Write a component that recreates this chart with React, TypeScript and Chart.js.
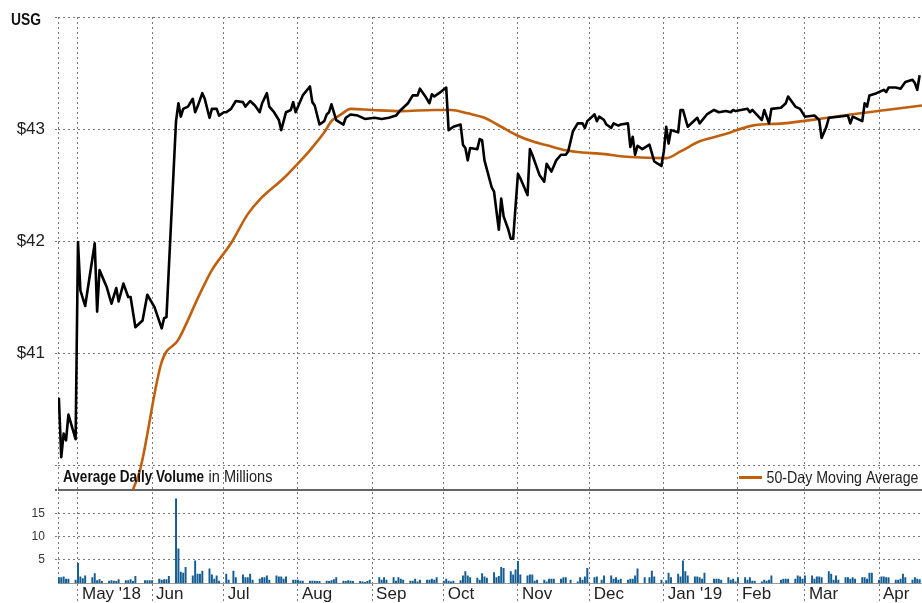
import { useEffect, useRef } from 'react';
import { Chart, registerables } from 'chart.js';

Chart.register(...registerables);

// ---------------- DATA ----------------
const TICKER = 'USG';
const MA_LABEL = '50-Day Moving Average';
const VOLUME_LABEL_BOLD = 'Average Daily Volume';
const VOLUME_LABEL_REST = 'in Millions';

// trading calendar (market holidays inside the range)
const FIRST_TRADING_DAY = '2018-04-23';
const LAST_TRADING_DAY = '2019-04-18';
const HOLIDAYS = [
  '2018-05-28', '2018-07-04', '2018-09-03', '2018-11-22', '2018-12-05',
  '2018-12-25', '2019-01-01', '2019-01-21', '2019-02-18',
];

// daily volume, millions, one value per trading day, by month
const volApr18 = [1.2, 1.2, 1.4, 0.9, 0.9, 0.7];
const volMay18 = [4.3, 1.4, 1.0, 1.6, 1.2, 2.1, 0.6, 0.8, 0.4, 0.5, 0.6, 0.5, 0.4, 0.8, 0.6, 0.6, 0.8, 0.4, 1.5, 0.6, 0.6, 0.6];
const volJun18 = [0.6, 0.9, 0.7, 0.8, 0.8, 1.5, 18.1, 7.4, 2.4, 2.2, 3.4, 1.6, 4.8, 2.0, 2.0, 2.6, 3.1, 1.8, 0.9, 1.6, 0.5];
const volJul18 = [2.0, 0.7, 2.6, 1.2, 1.8, 1.2, 1.2, 2.0, 0.7, 0.9, 1.2, 1.2, 1.6, 0.7, 1.6, 1.4, 1.4, 0.9, 1.4, 0.7, 0.7];
const volAug18 = [0.7, 0.5, 0.5, 0.5, 0.5, 0.5, 0.4, 0.4, 0.5, 0.4, 0.6, 0.8, 1.2, 0.5, 0.4, 0.6, 0.5, 0.4, 0.4, 0.3, 0.2, 0.4, 0.7];
const volSep18 = [1.2, 0.7, 1.2, 0.7, 1.2, 0.5, 1.2, 0.9, 0.7, 0.5, 0.5, 0.9, 0.3, 0.7, 0.7, 0.7, 0.9, 0.7, 1.2];
const volOct18 = [0.5, 0.9, 0.5, 0.3, 0.5, 0.6, 1.6, 2.5, 1.6, 1.2, 1.1, 0.7, 2.1, 1.4, 1.1, 2.3, 1.2, 1.5, 3.4, 3.2, 2.5, 1.8, 2.9];
const volNov18 = [4.7, 1.8, 1.6, 1.8, 1.8, 0.5, 0.7, 0.7, 0.3, 0.9, 0.9, 0.9, 0.9, 1.2, 1.2, 0.7, 0.3, 1.2, 0.7, 1.4, 3.2];
const volDec18 = [1.2, 1.4, 0.7, 1.6, 1.6, 0.9, 1.2, 0.7, 0.9, 0.7, 0.9, 0.9, 1.6, 3.1, 1.2, 1.2, 2.6, 1.4, 0.7];
const volJan19 = [0.6, 2.2, 1.2, 2.0, 1.4, 4.8, 2.5, 1.6, 1.4, 1.4, 1.2, 0.9, 2.2, 0.9, 0.9, 0.9, 0.7, 1.2, 0.7, 0.9, 0.3];
const volFeb19 = [1.2, 1.2, 0.7, 1.2, 0.5, 0.5, 0.3, 0.7, 0.5, 0.7, 1.6, 0.7, 0.9, 0.9, 0.9, 0.9, 1.6, 1.4, 0.9];
const volMar19 = [1.6, 1.6, 0.9, 1.4, 1.4, 1.2, 2.5, 2.0, 0.7, 1.6, 0.7, 1.2, 1.2, 0.9, 1.2, 0.9, 1.2, 1.2, 0.9, 2.2, 2.2];
const volApr19 = [0.7, 1.4, 1.4, 1.2, 1.2, 0.7, 0.7, 0.9, 2.0, 1.2, 0.7, 1.2, 0.9, 0.8];

// closing price (line vertices)
const priceDates = [
  '2018-04-23', '2018-04-24', '2018-04-25', '2018-04-26', '2018-04-27', '2018-04-30',
  '2018-05-01', '2018-05-02', '2018-05-04', '2018-05-08', '2018-05-09', '2018-05-10', '2018-05-13', '2018-05-15', '2018-05-17', '2018-05-18', '2018-05-20', '2018-05-22', '2018-05-23', '2018-05-25', '2018-05-28', '2018-05-30',
  '2018-06-02', '2018-06-05', '2018-06-06', '2018-06-07', '2018-06-11', '2018-06-12', '2018-06-13', '2018-06-14', '2018-06-16', '2018-06-18', '2018-06-19', '2018-06-20', '2018-06-22', '2018-06-23', '2018-06-25', '2018-06-26', '2018-06-28', '2018-06-29',
  '2018-07-01', '2018-07-02', '2018-07-04', '2018-07-06', '2018-07-09', '2018-07-10', '2018-07-12', '2018-07-14', '2018-07-16', '2018-07-17', '2018-07-19', '2018-07-20', '2018-07-22', '2018-07-24', '2018-07-25', '2018-07-27', '2018-07-29', '2018-07-30', '2018-07-31',
  '2018-08-03', '2018-08-06', '2018-08-07', '2018-08-08', '2018-08-10', '2018-08-12', '2018-08-13', '2018-08-14', '2018-08-15', '2018-08-17', '2018-08-20', '2018-08-21', '2018-08-23', '2018-08-26', '2018-08-29',
  '2018-09-02', '2018-09-05', '2018-09-08', '2018-09-11', '2018-09-13', '2018-09-16', '2018-09-18', '2018-09-20', '2018-09-21', '2018-09-23', '2018-09-25', '2018-09-26', '2018-09-27', '2018-09-29',
  '2018-10-02', '2018-10-03', '2018-10-05', '2018-10-08', '2018-10-09', '2018-10-10', '2018-10-11', '2018-10-12', '2018-10-15', '2018-10-16', '2018-10-17', '2018-10-18', '2018-10-21', '2018-10-22', '2018-10-24', '2018-10-25', '2018-10-26', '2018-10-28', '2018-10-29', '2018-10-30',
  '2018-11-01', '2018-11-02', '2018-11-05', '2018-11-06', '2018-11-07', '2018-11-10', '2018-11-12', '2018-11-13', '2018-11-15', '2018-11-16', '2018-11-17', '2018-11-19', '2018-11-21', '2018-11-22', '2018-11-23', '2018-11-24', '2018-11-26', '2018-11-28', '2018-11-29', '2018-11-30',
  '2018-12-03', '2018-12-04', '2018-12-05', '2018-12-07', '2018-12-08', '2018-12-10', '2018-12-11', '2018-12-13', '2018-12-14', '2018-12-17', '2018-12-18', '2018-12-19', '2018-12-20', '2018-12-21', '2018-12-23', '2018-12-26', '2018-12-28', '2018-12-31',
  '2019-01-01', '2019-01-02', '2019-01-03', '2019-01-04', '2019-01-07', '2019-01-08', '2019-01-09', '2019-01-11', '2019-01-15', '2019-01-16', '2019-01-19', '2019-01-22', '2019-01-24', '2019-01-27', '2019-01-29', '2019-01-30', '2019-01-31',
  '2019-02-05', '2019-02-06', '2019-02-07', '2019-02-11', '2019-02-12', '2019-02-14', '2019-02-15', '2019-02-19', '2019-02-21', '2019-02-22', '2019-02-25', '2019-02-27',
  '2019-03-01', '2019-03-05', '2019-03-07', '2019-03-08', '2019-03-10', '2019-03-11', '2019-03-15', '2019-03-19', '2019-03-20', '2019-03-21', '2019-03-23', '2019-03-25', '2019-03-26', '2019-03-27', '2019-03-28', '2019-03-31',
  '2019-04-03', '2019-04-04', '2019-04-05', '2019-04-08', '2019-04-10', '2019-04-12', '2019-04-15', '2019-04-16', '2019-04-17', '2019-04-18',
];
const priceValues = [
  40.60, 40.07, 40.28, 40.22, 40.45, 40.23,
  41.99, 41.56, 41.42, 41.98, 41.37, 41.74, 41.59, 41.44, 41.58, 41.46, 41.62, 41.50, 41.50, 41.23, 41.29, 41.52,
  41.41, 41.22, 41.31, 41.32, 43.07, 43.23, 43.11, 43.18, 43.20, 43.27, 43.15, 43.20, 43.32, 43.27, 43.10, 43.18, 43.18, 43.12,
  43.15, 43.15, 43.18, 43.25, 43.24, 43.20, 43.25, 43.21, 43.15, 43.23, 43.32, 43.20, 43.15, 43.08, 42.99, 43.15, 43.17, 43.24, 43.15,
  43.30, 43.38, 43.24, 43.21, 43.04, 43.07, 43.13, 43.15, 43.22, 43.08, 43.04, 43.10, 43.13, 43.12, 43.09,
  43.10, 43.09, 43.10, 43.12, 43.17, 43.23, 43.30, 43.30, 43.36, 43.30, 43.23, 43.31, 43.29, 43.32,
  43.37, 42.99, 43.02, 43.04, 42.86, 42.83, 42.72, 42.83, 42.82, 42.91, 42.90, 42.72, 42.48, 42.44, 42.10, 42.38, 42.22, 42.10, 42.02, 42.02,
  42.60, 42.56, 42.41, 42.82, 42.77, 42.59, 42.53, 42.69, 42.62, 42.67, 42.72, 42.77, 42.77, 42.80, 42.89, 42.98, 43.05, 43.05, 43.01, 43.07,
  43.13, 43.07, 43.11, 43.08, 43.04, 43.01, 43.05, 43.03, 43.04, 43.05, 42.84, 42.93, 42.77, 42.85, 42.82, 42.86, 42.71, 42.67,
  42.80, 43.02, 42.87, 42.99, 42.97, 43.17, 43.17, 43.02, 43.10, 43.05, 43.13, 43.17, 43.15, 43.16, 43.15, 43.17, 43.16,
  43.18, 43.15, 43.17, 43.08, 43.17, 43.05, 43.18, 43.19, 43.23, 43.29, 43.20, 43.18,
  43.11, 43.12, 43.08, 42.92, 43.02, 43.10, 43.11, 43.12, 43.05, 43.11, 43.09, 43.07, 43.23, 43.20, 43.30, 43.32,
  43.35, 43.33, 43.37, 43.37, 43.36, 43.42, 43.44, 43.41, 43.35, 43.48,
];

// 50-day moving average
const maDates = [
  '2018-05-24', '2018-05-27', '2018-06-05', '2018-06-12', '2018-06-21', '2018-06-26', '2018-07-04', '2018-07-11',
  '2018-07-16', '2018-07-26', '2018-07-31', '2018-08-06', '2018-08-12', '2018-08-15', '2018-08-19', '2018-08-23',
  '2018-09-01', '2018-09-13', '2018-09-27', '2018-10-04', '2018-10-11', '2018-10-18', '2018-10-25', '2018-11-01',
  '2018-11-07', '2018-11-14', '2018-11-21', '2018-11-28', '2018-12-05', '2018-12-18', '2019-01-01', '2019-01-02',
  '2019-01-08', '2019-01-16', '2019-01-26', '2019-02-07', '2019-02-20', '2019-03-07', '2019-03-20', '2019-04-04',
  '2019-04-19',
];
const maValues = [
  39.78, 39.96, 40.92, 41.12, 41.53, 41.74, 41.98, 42.24,
  42.37, 42.56, 42.67, 42.81, 42.97, 43.07, 43.13, 43.18,
  43.17, 43.16, 43.17, 43.17, 43.14, 43.10, 43.02, 42.94,
  42.89, 42.85, 42.81, 42.79, 42.78, 42.75, 42.74, 42.74,
  42.80, 42.89, 42.95, 43.03, 43.05, 43.09, 43.13, 43.17,
  43.21,
];

// axis ticks
const monthTickDates = [
  '2018-05-01', '2018-06-01', '2018-07-01', '2018-08-01', '2018-09-01', '2018-10-01',
  '2018-11-01', '2018-12-01', '2019-01-01', '2019-02-01', '2019-03-01', '2019-04-01',
];
const monthTickLabels = ["May '18", 'Jun', 'Jul', 'Aug', 'Sep', 'Oct', 'Nov', 'Dec', "Jan '19", 'Feb', 'Mar', 'Apr'];
const priceTicks = [40, 41, 42, 43, 44];
const priceLabelled = [41, 42, 43];
const volumeTicks = [5, 10, 15, 20];
const volumeLabelled = [5, 10, 15];

// ---------------- HELPERS ----------------
const EPOCH = Date.UTC(2018, 4, 1);
function dayOf(s: string): number {
  const [y, m, d] = s.split('-').map(Number);
  return (Date.UTC(y, m - 1, d) - EPOCH) / 86400000;
}
function fmt(t: number): string {
  const d = new Date(t);
  const mm = String(d.getUTCMonth() + 1).padStart(2, '0');
  const dd = String(d.getUTCDate()).padStart(2, '0');
  return `${d.getUTCFullYear()}-${mm}-${dd}`;
}
function tradingDays(): string[] {
  const out: string[] = [];
  const [y0, m0, d0] = FIRST_TRADING_DAY.split('-').map(Number);
  const [y1, m1, d1] = LAST_TRADING_DAY.split('-').map(Number);
  const end = Date.UTC(y1, m1 - 1, d1);
  for (let t = Date.UTC(y0, m0 - 1, d0); t <= end; t += 86400000) {
    const wd = new Date(t).getUTCDay();
    const s = fmt(t);
    if (wd === 0 || wd === 6 || HOLIDAYS.includes(s)) continue;
    out.push(s);
  }
  return out;
}
function noPad(s: any) {
  s.paddingTop = 0;
  s.paddingBottom = 0;
  s.paddingLeft = 0;
  s.paddingRight = 0;
}

const X_MIN = -8.36;
const X_MAX = 352.98;
const FONT = "'Liberation Sans', Arial, Helvetica, sans-serif";
const NARROW = "'Liberation Sans Narrow', 'Liberation Sans', Arial, sans-serif";
const GRID = '#7a7a7a';
const DASH = [2, 3];
const MA_COLOR = '#c0600f';
const VOL_COLOR = '#135d92';

const overlayPlugin = {
  id: 'overlayText',
  afterDraw(chart: any) {
    const ctx = chart.ctx as CanvasRenderingContext2D;
    ctx.save();
    ctx.textAlign = 'left';
    ctx.textBaseline = 'alphabetic';
    ctx.fillStyle = '#111';
    ctx.font = `bold 16px ${NARROW}`;
    ctx.fillText(TICKER, 11, 25, 30);
    ctx.font = `bold 17px ${NARROW}`;
    ctx.fillText(VOLUME_LABEL_BOLD, 63, 482, 141);
    ctx.fillStyle = '#222';
    ctx.font = `17px ${NARROW}`;
    ctx.fillText(VOLUME_LABEL_REST, 208.5, 482, 64);
    const ma = chart.data.datasets[1];
    ctx.strokeStyle = ma.borderColor;
    ctx.lineWidth = 3;
    ctx.beginPath();
    ctx.moveTo(739, 477.5);
    ctx.lineTo(762, 477.5);
    ctx.stroke();
    ctx.font = `16.5px ${NARROW}`;
    ctx.fillText(ma.label, 766.5, 483, 152);
    ctx.restore();
  },
};

export default function App() {
  const ref = useRef<HTMLCanvasElement | null>(null);

  useEffect(() => {
    if (!ref.current) return;
    const days = tradingDays();
    const volumes = [
      ...volApr18, ...volMay18, ...volJun18, ...volJul18, ...volAug18, ...volSep18, ...volOct18,
      ...volNov18, ...volDec18, ...volJan19, ...volFeb19, ...volMar19, ...volApr19,
    ];
    const volData = days.map((d, i) => ({ x: dayOf(d), y: volumes[i] ?? 0 }));
    const priceData = priceDates.map((d, i) => ({ x: dayOf(d), y: priceValues[i] }));
    const maData = maDates.map((d, i) => ({ x: dayOf(d), y: maValues[i] }));
    const xTicks = [X_MIN, ...monthTickDates.map(dayOf)];

    const chart = new Chart(ref.current, {
      type: 'line',
      data: {
        datasets: [
          {
            type: 'line', label: TICKER, data: priceData, yAxisID: 'y', xAxisID: 'x',
            borderColor: '#000', borderWidth: 2.6, pointRadius: 0, tension: 0, order: 0,
            borderJoinStyle: 'round',
          },
          {
            type: 'line', label: MA_LABEL, data: maData, yAxisID: 'y', xAxisID: 'x',
            borderColor: MA_COLOR, borderWidth: 2.6, pointRadius: 0,
            cubicInterpolationMode: 'monotone', order: 1,
          },
          {
            type: 'bar', label: 'Volume', data: volData, yAxisID: 'y2', xAxisID: 'x',
            backgroundColor: VOL_COLOR, barThickness: 1.3, order: 2,
          } as any,
        ],
      },
      options: {
        responsive: false,
        animation: false,
        devicePixelRatio: 1,
        layout: { padding: { top: 17, left: 0, right: 0, bottom: 0 } },
        plugins: { legend: { display: false }, tooltip: { enabled: false }, title: { display: false } },
        scales: {
          x: {
            type: 'linear', min: X_MIN, max: X_MAX, offset: false,
            afterBuildTicks: (s: any) => { s.ticks = xTicks.map((v) => ({ value: v })); },
            afterFit: (s: any) => { s.height = 19.7; noPad(s); },
            ticks: {
              autoSkip: false, maxRotation: 0, minRotation: 0, align: 'start', labelOffset: 4,
              padding: -19, color: '#222', font: { family: FONT, size: 17 },
              callback: (_v: any, i: number) => (i === 0 ? '' : monthTickLabels[i - 1]),
            },
            grid: {
              color: GRID, lineWidth: 1, offset: false, drawTicks: true, tickLength: 20,
              tickColor: (c: any) => (c.index === 0 ? 'rgba(0,0,0,0)' : GRID), tickBorderDash: DASH,
            },
            border: { display: true, color: '#9a9a9a', width: 1, dash: DASH },
          },
          y: {
            type: 'linear', position: 'left', min: 38.944, max: 44, weight: 1,
            afterBuildTicks: (s: any) => { s.ticks = priceTicks.map((v) => ({ value: v })); },
            afterFit: (s: any) => { s.width = 58; noPad(s); },
            ticks: {
              padding: 10, color: '#222', font: { family: FONT, size: 17 },
              callback: (v: any) => (priceLabelled.includes(Number(v)) ? `$${v}` : ''),
            },
            grid: { color: GRID, lineWidth: 1, tickLength: 3, tickColor: GRID, tickBorderDash: DASH },
            border: { display: false, dash: DASH },
          },
          y2: {
            type: 'linear', position: 'left', min: 0, max: 121.4, weight: 0,
            afterBuildTicks: (s: any) => { s.ticks = volumeTicks.map((v) => ({ value: v })); },
            afterFit: (s: any) => { s.width = 0; noPad(s); },
            ticks: {
              mirror: true, crossAlign: 'far', padding: -26.4, color: '#333', font: { family: FONT, size: 12 },
              callback: (v: any) => (volumeLabelled.includes(Number(v)) ? String(v) : ''),
            },
            grid: {
              color: (c: any) => (c.tick && c.tick.value === 20 ? '#666' : GRID),
              lineWidth: (c: any) => (c.tick && c.tick.value === 20 ? 2 : 1),
              tickLength: 3,
              tickColor: (c: any) => (c.tick && c.tick.value === 20 ? '#666' : GRID),
              tickBorderDash: DASH,
            },
            border: { display: false, dash: (c: any) => (c.tick && c.tick.value === 20 ? [] : DASH) },
          },
        },
      } as any,
      plugins: [overlayPlugin],
    });
    return () => chart.destroy();
  }, []);

  return (
    <div style={{ position: 'absolute', left: 0, top: 0, width: 922, height: 603, background: '#fff' }}>
      <canvas ref={ref} width={922} height={603} style={{ display: 'block', width: 922, height: 603 }} />
    </div>
  );
}
